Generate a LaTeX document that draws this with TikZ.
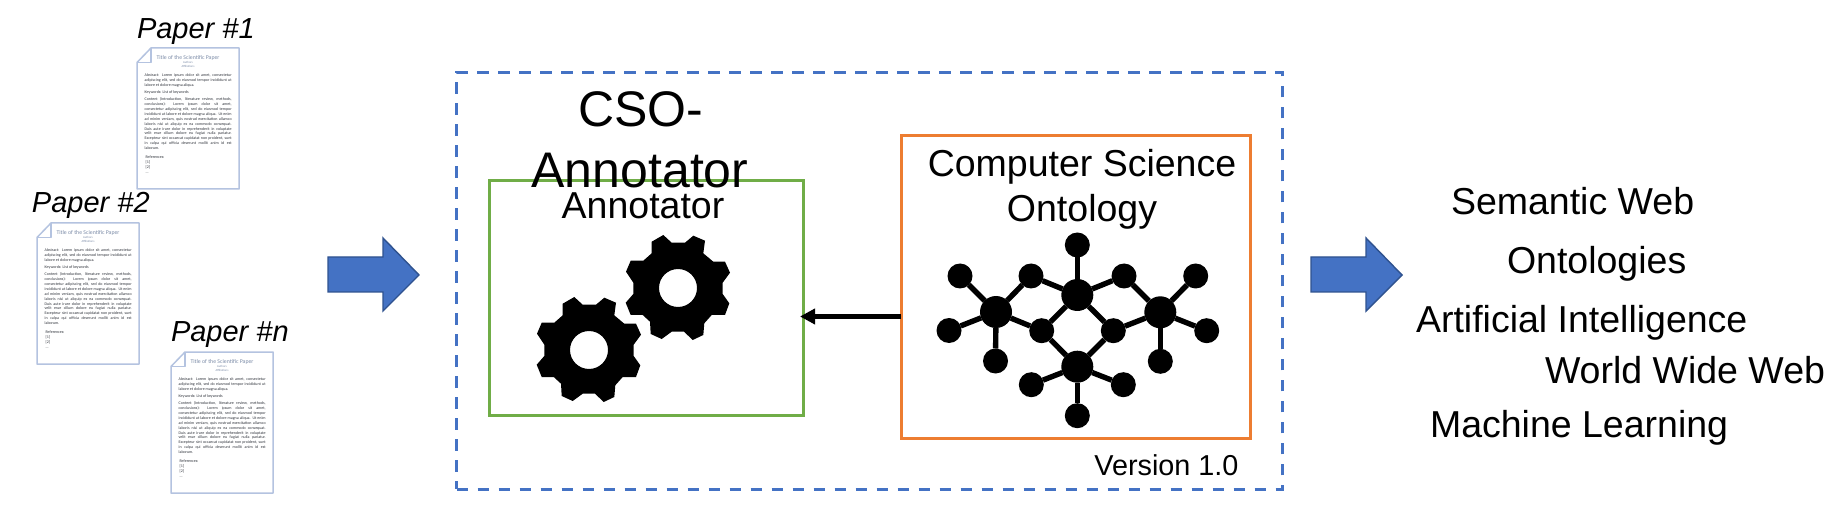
\documentclass[tikz,border=0pt]{standalone}
\usepackage{fontspec}
\setmainfont{Liberation Sans}
\newfontfamily\calib{Carlito}
\usetikzlibrary{arrows.meta}
\definecolor{cblue}{HTML}{4472C4}
\definecolor{cblued}{HTML}{2F528F}
\definecolor{cgreen}{HTML}{70AD47}
\definecolor{corange}{HTML}{ED7D31}
\definecolor{cpaper}{HTML}{B4C3E0}
\definecolor{ctitle}{HTML}{7C8CA8}
\definecolor{cbody}{HTML}{30343C}
\tikzset{
  txt/.style={anchor=base west,inner sep=0pt,outer sep=0pt,font=\fontsize{18.75pt}{22pt}\selectfont,text=black},
  txtc/.style={anchor=base,inner sep=0pt,outer sep=0pt,font=\fontsize{18.75pt}{22pt}\selectfont,text=black},
  big/.style={anchor=base,inner sep=0pt,outer sep=0pt,font=\fontsize{25pt}{30pt}\selectfont,text=black},
  plabel/.style={anchor=base west,inner sep=0pt,outer sep=0pt,font=\fontsize{14.5pt}{17pt}\selectfont\itshape,text=black},
  frame/.style={draw,anchor=north west,inner sep=0pt,outer sep=0pt,line width=1.5pt},
  blockarrow/.style={fill=cblue,draw=cblued,line width=0.7pt,line join=miter},
  conn/.style={draw=black,line width=2.5pt,-{Triangle[length=7.5pt,width=7.5pt]}},
  edge/.style={draw=black,line width=2.7pt},
  leaf/.style={circle,fill=black,inner sep=0pt,outer sep=0pt,minimum size=12.5pt},
  hub/.style={circle,fill=black,inner sep=0pt,outer sep=0pt,minimum size=16pt},
  paperline/.style={draw=cpaper,line width=0.75pt,line join=round},
  ptitle/.style={anchor=center,inner sep=0pt,text=ctitle,font=\calib\fontsize{2.9pt}{3pt}\selectfont},
  psmall/.style={anchor=center,inner sep=0pt,text=ctitle,font=\calib\fontsize{1.5pt}{2pt}\selectfont},
  pbody/.style={anchor=north west,inner sep=0pt,text=cbody,font=\calib\fontsize{2pt}{2.4pt}\selectfont},
}
\newcommand{\jl}[1]{\hbox to 43.5pt{\spaceskip=0.18em plus 1fil\relax #1}}
\newcommand{\fl}[1]{\hbox to 43.5pt{#1\hfil}}
\newcommand{\paperdoc}[3]{%
  \begin{scope}[shift={(#2,#3)}]
    \coordinate (#1-nw) at (14,0);
    \coordinate (#1-ne) at (102,0);
    \coordinate (#1-se) at (102,141);
    \coordinate (#1-sw) at (0,141);
    \coordinate (#1-w) at (0,14.5);
    \coordinate (#1-f) at (14,14.5);
    \draw[paperline] (#1-nw) -- (#1-ne) -- (#1-se) -- (#1-sw) -- (#1-w) -- cycle;
    \draw[paperline] (#1-nw) -- (#1-f) -- (#1-w);
    \node[ptitle] (#1-title) at (51,9.5) {Title of the Scientific Paper};
    \node[psmall] (#1-auth) at (51,14.7) {Authors};
    \node[psmall] (#1-aff) at (51,18.7) {Affiliations};
    \node[pbody] (#1-body) at (7.3,25.5) {\vbox{\lineskiplimit=-10pt\baselineskip=2.45pt
      \jl{Abstract: Lorem ipsum dolor sit amet, consectetur}
      \jl{adipiscing elit, sed do eiusmod tempor incididunt ut}
      \fl{labore et dolore magna aliqua.}
      \vskip1.1pt
      \fl{Keywords: List of keywords}
      \vskip1.1pt
      \jl{Content (Introduction, literature review, methods,}
      \jl{conclusions): Lorem ipsum dolor sit amet,}
      \jl{consectetur adipiscing elit, sed do eiusmod tempor}
      \jl{incididunt ut labore et dolore magna aliqua. Ut enim}
      \jl{ad minim veniam, quis nostrud exercitation ullamco}
      \jl{laboris nisi ut aliquip ex ea commodo consequat.}
      \jl{Duis aute irure dolor in reprehenderit in voluptate}
      \jl{velit esse cillum dolore eu fugiat nulla pariatur.}
      \jl{Excepteur sint occaecat cupidatat non proident, sunt}
      \jl{in culpa qui officia deserunt mollit anim id est}
      \fl{laborum.}
      \vskip2.2pt
      \fl{\ References:}
      \fl{\ [1]}
      \fl{\ [2]}
      \fl{\ ...}
    }};
  \end{scope}}
\newcommand{\gearpath}{%
  (-26.3,-46.3) -- (-14.7,-53) -- (-6.3,-45.3) -- (7,-45.3) -- (15.3,-52.3) -- (27,-47.3) -- (25.3,-34.7) -- (35.3,-26.3) -- (47,-26.3) -- (52,-15.3) -- (44.7,-5.3) -- (44.7,6) -- (51.3,15.3) -- (47,27) -- (33.7,27) -- (26.3,35.3) -- (25.3,47) -- (14.7,52) -- (6,43.7) -- (-6.3,43.7) -- (-16.3,51) -- (-27.3,46) -- (-28,33.7) -- (-35.3,27) -- (-47.3,27) -- (-52.3,14.7) -- (-44.7,6) -- (-44.7,-5.3) -- (-52,-16.3) -- (-47.3,-27.3) -- (-34.7,-27.3) -- (-26.3,-34.7) -- cycle (19,0) arc[start angle=0,end angle=360,radius=19]}
\begin{document}
\begin{tikzpicture}[x=0.5pt,y=-0.5pt]
\useasboundingbox (0,0) rectangle (1847,518);
\fill[white] (0,0) rectangle (1847,518);

% papers
\paperdoc{pa}{137}{48}
\paperdoc{pb}{37}{223}
\paperdoc{pc}{171}{352}
\node[plabel] (la) at (137,39) {Paper \#1};
\node[plabel] (lb) at (32,213) {Paper \#2};
\node[plabel] (lc) at (171,342) {Paper \#n};

% block arrows
\draw[blockarrow] (328,257) -- (383,257) -- (383,238) -- (419,275) -- (383,311) -- (383,292) -- (328,292) -- cycle;
\draw[blockarrow] (1311,257) -- (1366,257) -- (1366,238) -- (1402,275) -- (1366,311) -- (1366,292) -- (1311,292) -- cycle;

% frames
\node[frame,draw=cblue,dash pattern=on 5.75pt off 4.75pt,minimum width=413pt,minimum height=208.5pt] (main) at (456.5,72.3) {};
\node[frame,draw=cgreen,minimum width=157pt,minimum height=117.5pt] (annot) at (489,180.5) {};
\node[frame,draw=corange,minimum width=174.5pt,minimum height=151pt] (onto) at (901,136) {};

% texts in frames
\node[big] (cso) at (641,127) {CSO-};
\node[big] (cso2) at (640,188) {Annotator};
\node[txtc] (annlab) at (643,219) {Annotator};
\node[txtc] (onto1) at (1082,177) {Computer Science};
\node[txtc] (onto2) at (1082,222) {Ontology};
\node[anchor=base west,inner sep=0pt,font=\fontsize{14.4pt}{17pt}\selectfont] (ver) at (1094,475) {Version 1.0};

% gears
\fill[black,even odd rule,shift={(589,350)}] \gearpath;
\fill[black,even odd rule,shift={(678,288)}] \gearpath;

% arrow
\coordinate (tip) at (800,316.5);
\draw[conn] (onto.west |- tip) -- (tip);

% network
\node[hub] (h1) at (996,312) {};
\node[hub] (h2) at (1077.3,295) {};
\node[hub] (h3) at (1077.3,366.7) {};
\node[hub] (h4) at (1160.3,312.3) {};
\node[leaf] (a1) at (960,276) {};
\node[leaf] (a2) at (949,330.5) {};
\node[leaf] (a3) at (995.5,361) {};
\node[leaf] (m1) at (1031,276) {};
\node[leaf] (m2) at (1124,276) {};
\node[leaf] (n1) at (1041.7,330.7) {};
\node[leaf] (n2) at (1113.3,330.7) {};
\node[leaf] (t) at (1077.3,245) {};
\node[leaf] (b1) at (1031.3,384.7) {};
\node[leaf] (b2) at (1123.3,384.7) {};
\node[leaf] (b3) at (1077.3,415.7) {};
\node[leaf] (r1) at (1195.7,276) {};
\node[leaf] (r2) at (1206.7,330.7) {};
\node[leaf] (r3) at (1160.3,361.3) {};
\foreach \p/\q in {h1/a1,h1/a2,h1/a3,h1/m1,h1/n1,h2/t,h2/m1,h2/m2,h2/n1,h2/n2,h3/n1,h3/n2,h3/b1,h3/b2,h3/b3,h4/m2,h4/n2,h4/r1,h4/r2,h4/r3}
  \draw[edge] (\p) -- (\q);

% right keywords
\node[txt] (k1) at (1451,215) {Semantic Web};
\node[txt] (k2) at (1507,274) {Ontologies};
\node[txt] (k3) at (1416,332) {Artificial Intelligence};
\node[txt] (k4) at (1545,383) {World Wide Web};
\node[txt] (k5) at (1430,437) {Machine Learning};
\end{tikzpicture}
\end{document}
